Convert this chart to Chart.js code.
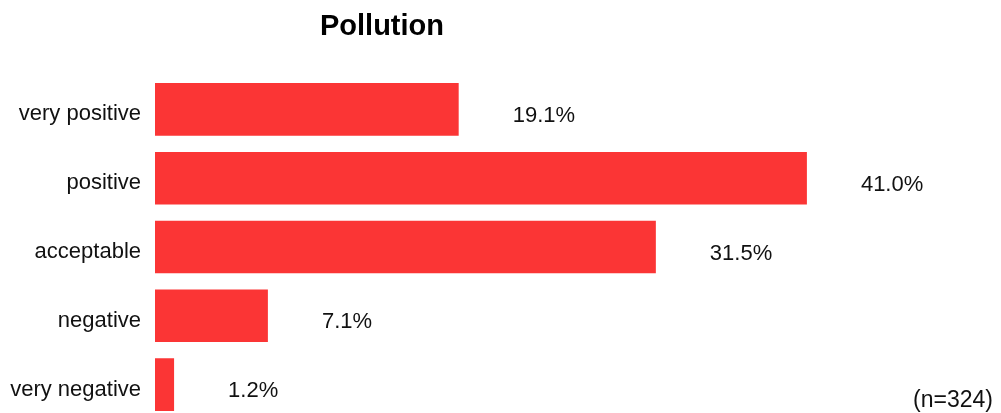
<!DOCTYPE html>
<html>
<head>
<meta charset="utf-8">
<script src="https://cdn.jsdelivr.net/npm/chart.js@4/dist/chart.umd.min.js"></script>
<style>
  html, body { margin: 0; padding: 0; background: #ffffff; overflow: hidden; }
  #wrap { width: 1001px; height: 413px; overflow: hidden; }
</style>
</head>
<body>
<div id="wrap"><canvas id="pollution-chart" width="1001" height="420"></canvas></div>
<script>
// ===================================
// Data
// ===================================
const categories = ["very positive", "positive", "acceptable", "negative", "very negative"];
const shares = [19.1, 41.0, 31.5, 7.1, 1.2];
const chartTitle = "Pollution";
const sampleNote = "(n=324)";

const FONT = "'Liberation Sans', Arial, sans-serif";
const BAR_RED = "#fb3535";

// value labels to the right of each bar
const valueLabels = {
  id: "valueLabels",
  afterDatasetsDraw(chart) {
    const ctx = chart.ctx;
    const meta = chart.getDatasetMeta(0);
    ctx.save();
    ctx.fillStyle = "#111111";
    ctx.font = "22px " + FONT;
    ctx.textAlign = "left";
    ctx.textBaseline = "alphabetic";
    meta.data.forEach(function (bar, i) {
      ctx.fillText(shares[i].toFixed(1) + "%", bar.x + 54, bar.y + 12.5);
    });
    ctx.restore();
  },
};

// title and sample size note
const extraText = {
  id: "extraText",
  afterDraw(chart) {
    const ctx = chart.ctx;
    ctx.save();
    ctx.fillStyle = "#000000";
    ctx.font = "bold 29px " + FONT;
    ctx.textAlign = "center";
    ctx.textBaseline = "alphabetic";
    ctx.fillText(chartTitle, 382, 35);
    ctx.fillStyle = "#111111";
    ctx.font = "23px " + FONT;
    ctx.textAlign = "right";
    ctx.fillText(sampleNote, 993, 407);
    ctx.restore();
  },
};

document.addEventListener("DOMContentLoaded", function () {
  const ctx = document.getElementById("pollution-chart").getContext("2d");

  new Chart(ctx, {
    type: "bar",
    data: {
      labels: categories,
      datasets: [
        {
          data: shares,
          backgroundColor: BAR_RED,
          borderWidth: 0,
          categoryPercentage: 1,
          barPercentage: 0.765,
        },
      ],
    },
    options: {
      indexAxis: "y",
      responsive: false,
      animation: false,
      layout: {
        autoPadding: false,
        padding: { top: 75, bottom: 1, left: 0, right: 51 },
      },
      plugins: {
        legend: { display: false },
        tooltip: { enabled: false },
        title: { display: false },
      },
      scales: {
        x: {
          display: false,
          min: 0,
          max: 50,
        },
        y: {
          afterFit: function (scale) {
            scale.width = 155;
            scale.paddingTop = 0;
            scale.paddingBottom = 0;
          },
          grid: { display: false, drawTicks: false },
          border: { display: false },
          ticks: {
            color: "#111111",
            padding: 14,
            labelOffset: 5,
            font: { family: FONT, size: 22 },
          },
        },
      },
    },
    plugins: [valueLabels, extraText],
  });
});
</script>
</body>
</html>
